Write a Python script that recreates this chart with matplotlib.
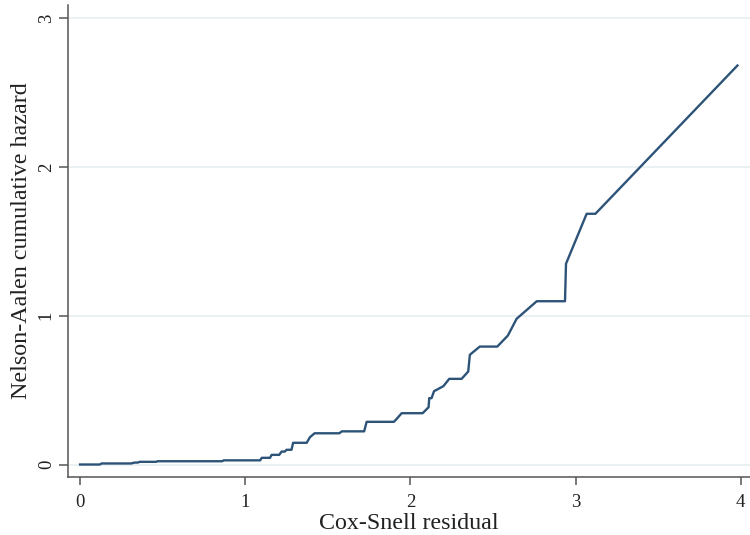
import matplotlib
matplotlib.use("Agg")
import matplotlib.pyplot as plt

plt.rcParams['font.family'] = ['Liberation Serif', 'DejaVu Serif']

# Cox-Snell residual vs Nelson-Aalen cumulative hazard
resid = [0.0, 0.12, 0.13, 0.31, 0.33, 0.35, 0.36, 0.46, 0.47, 0.86, 0.87,
         1.09, 1.10, 1.15, 1.16, 1.206, 1.22, 1.24, 1.25, 1.28, 1.29,
         1.372, 1.392, 1.42, 1.57, 1.585, 1.72, 1.735, 1.90, 1.917, 1.947,
         2.074, 2.11, 2.114, 2.128, 2.143, 2.20, 2.235, 2.31, 2.35, 2.36,
         2.42, 2.526, 2.59, 2.643, 2.765, 2.936, 2.942, 3.067, 3.12, 3.98]
cumhaz = [0.0, 0.0, 0.007, 0.007, 0.013, 0.013, 0.018, 0.018, 0.022, 0.022, 0.028,
          0.028, 0.045, 0.045, 0.065, 0.065, 0.087, 0.087, 0.099, 0.099, 0.146,
          0.146, 0.184, 0.21, 0.21, 0.223, 0.223, 0.287, 0.287, 0.307, 0.345,
          0.345, 0.385, 0.446, 0.446, 0.493, 0.527, 0.576, 0.576, 0.625, 0.738,
          0.793, 0.793, 0.867, 0.98, 1.098, 1.098, 1.35, 1.686, 1.686, 2.683]

xticks = [0, 1, 2, 3, 4]
yticks = [0, 1, 2, 3]

fig = plt.figure(figsize=(7.5, 5.35), dpi=100)
ax = fig.add_axes([68/750, 58/535, 682/750, 472/535])

ax.plot(resid, cumhaz, color='#2d5478', lw=1.7, solid_joinstyle='round')

ax.set_xlim(-0.073, 4.056)
ax.set_ylim(-0.084, 3.09)
ax.set_xticks(xticks)
ax.set_yticks(yticks)
ax.set_xticklabels([str(t) for t in xticks])
ax.set_yticklabels([str(t) for t in yticks], rotation=90, va='center')

ax.grid(axis='y', color='#e6eff1', lw=1.2)
ax.set_axisbelow(True)
for s in ['top', 'right']:
    ax.spines[s].set_visible(False)
for s in ['left', 'bottom']:
    ax.spines[s].set_color('#555555')
    ax.spines[s].set_linewidth(1.1)
ax.tick_params(axis='both', colors='#555555', labelcolor='#222222', labelsize=13.5, width=1.1)
ax.tick_params(axis='y', length=6.5, pad=3)
ax.tick_params(axis='x', length=5.5, pad=7)

ax.set_xlabel('Cox-Snell residual', fontsize=17.3, color='#222222', labelpad=1)
ax.set_ylabel('Nelson-Aalen cumulative hazard', fontsize=17.3, color='#222222', labelpad=4)

fig.savefig('out.png', dpi=100)
